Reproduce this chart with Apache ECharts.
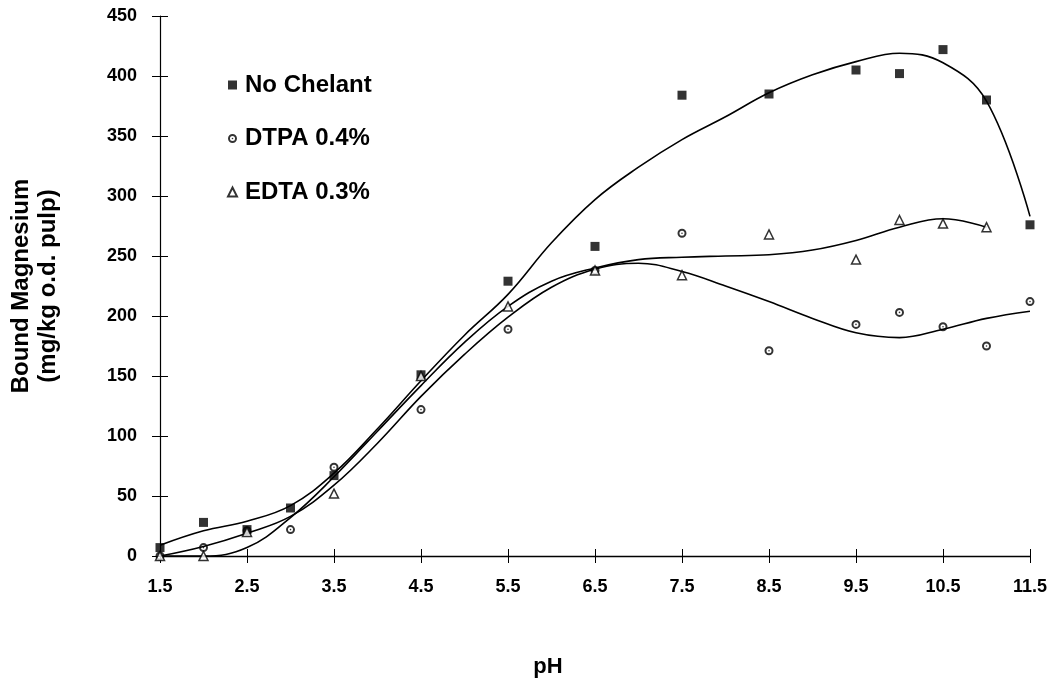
<!DOCTYPE html>
<html>
<head>
<meta charset="utf-8">
<script src="https://cdn.jsdelivr.net/npm/echarts@6/dist/echarts.min.js"></script>
<style>
  html, body { margin: 0; padding: 0; background: #fff; }
  #chart { width: 1058px; height: 680px; }
</style>
</head>
<body>
<div id="chart"></div>
<script>
// measured points
const phNoChelant = [1.5, 2, 2.5, 3, 3.5, 4.5, 5.5, 6.5, 7.5, 8.5, 9.5, 10, 10.5, 11, 11.5];
const noChelant = [7, 28, 22, 40, 67, 151, 229, 258, 384, 385, 405, 402, 422, 380, 276];

const phDtpa = [1.5, 2, 2.5, 3, 3.5, 4.5, 5.5, 6.5, 7.5, 8.5, 9.5, 10, 10.5, 11, 11.5];
const dtpa = [0, 7, 21, 22, 74, 122, 189, 238, 269, 171, 193, 203, 191, 175, 212];

const phEdta = [1.5, 2, 2.5, 3.5, 4.5, 5.5, 6.5, 7.5, 8.5, 9.5, 10, 10.5, 11];
const edta = [0, 0, 20, 52, 150, 208, 238, 234, 268, 247, 280, 277, 274];

// trend curves
const phFit = [1.5, 2, 2.5, 3, 3.5, 4, 4.5, 5, 5.5, 6, 6.5, 7, 7.5, 8, 8.5, 9, 9.5, 10, 10.5, 11, 11.5];
const noChelantFit = [9, 21, 29, 42, 69, 106, 146, 184, 218, 261, 297, 324, 347, 366, 386, 401, 412, 419, 411, 379, 283];
const dtpaFit = [0, 8, 19, 33, 59, 94, 133, 168, 199, 224, 239, 244, 237, 225, 212, 198, 186, 182, 189, 198, 204];
const edtaFit = [0, 0, 7, 32, 66, 104, 142, 178, 208, 229, 240, 247, 249, 250, 251, 255, 263, 274, 281, 274];

const xTicks = [1.5, 2.5, 3.5, 4.5, 5.5, 6.5, 7.5, 8.5, 9.5, 10.5, 11.5];

const pairs = (xs, ys) => ys.map((y, i) => [xs[i], y]);

const font = '"Liberation Sans", Arial, sans-serif';
const dotCircle = 'path://M5,0A5,5 0 1,1 5,10A5,5 0 1,1 5,0ZM5,2.2A2.8,2.8 0 1,0 5,7.8A2.8,2.8 0 1,0 5,2.2ZM5,4.1A0.9,0.9 0 1,1 5,5.9A0.9,0.9 0 1,1 5,4.1Z';

const chart = echarts.init(document.getElementById('chart'));

const curve = (data) => ({
    type: 'line',
    data: data,
    smooth: 0.4,
    showSymbol: false,
    silent: true,
    lineStyle: { color: '#000', width: 1.6 },
    z: 1
});

const option = {
    animation: false,
    backgroundColor: '#fff',
    grid: { left: 160, right: 28, top: 16, bottom: 124, containLabel: false, outerBoundsMode: 'none' },
    legend: {
        data: ['No Chelant', 'DTPA 0.4%', 'EDTA 0.3%'],
        orient: 'vertical',
        left: 222,
        top: 68,
        itemWidth: 9,
        itemHeight: 9,
        itemGap: 29.5,
        textStyle: { fontFamily: font, fontWeight: 'bold', fontSize: 24, color: '#000', padding: [0, 0, 0, 3] }
    },
    xAxis: [{
        type: 'value',
        min: 1.5,
        max: 11.5,
        name: 'pH',
        nameLocation: 'middle',
        nameGap: 100,
        nameTextStyle: { fontFamily: font, fontWeight: 'bold', fontSize: 22, color: '#000', padding: [0, 94, 0, 0] },
        splitLine: { show: false },
        axisLine: { onZero: false, lineStyle: { color: '#000', width: 1.3 } },
        axisTick: { length: 7, customValues: xTicks, lineStyle: { color: '#000' } },
        axisLabel: {
            customValues: xTicks, margin: 22,
            fontFamily: font, fontWeight: 'bold', fontSize: 18, color: '#000'
        }
    }, {
        type: 'value',
        min: 1.5,
        max: 11.5,
        position: 'bottom',
        splitLine: { show: false },
        axisLine: { show: false, onZero: false },
        axisTick: { inside: true, length: 7, customValues: xTicks, lineStyle: { color: '#000' } },
        axisLabel: { show: false }
    }],
    yAxis: [{
        type: 'value',
        min: 0,
        max: 450,
        interval: 50,
        name: 'Bound Magnesium\n(mg/kg o.d. pulp)',
        nameLocation: 'middle',
        nameGap: 98,
        nameTextStyle: { fontFamily: font, fontWeight: 'bold', fontSize: 24, lineHeight: 27, color: '#000' },
        splitLine: { show: false },
        axisLine: { show: true, lineStyle: { color: '#000', width: 1.2 } },
        axisTick: { show: true, length: 8, lineStyle: { color: '#000' } },
        axisLabel: { margin: 23, fontFamily: font, fontWeight: 'bold', fontSize: 18, color: '#000' }
    }, {
        type: 'value',
        min: 0,
        max: 450,
        interval: 50,
        position: 'left',
        splitLine: { show: false },
        axisLine: { show: false },
        axisTick: { show: true, inside: true, length: 8, lineStyle: { color: '#000' } },
        axisLabel: { show: false }
    }],
    series: [
        curve(pairs(phFit, noChelantFit)),
        curve(pairs(phFit, dtpaFit)),
        curve(pairs(phFit, edtaFit)),
        {
            name: 'No Chelant',
            type: 'scatter',
            data: pairs(phNoChelant, noChelant),
            symbol: 'rect',
            symbolSize: 9,
            itemStyle: { color: '#000' },
            z: 3
        },
        {
            name: 'DTPA 0.4%',
            type: 'scatter',
            data: pairs(phDtpa, dtpa),
            symbol: dotCircle,
            symbolSize: 9,
            itemStyle: { color: '#000' },
            z: 3
        },
        {
            name: 'EDTA 0.3%',
            type: 'scatter',
            data: pairs(phEdta, edta),
            symbol: 'triangle',
            symbolSize: 9,
            itemStyle: { color: '#fff', borderColor: '#000', borderWidth: 1.5 },
            z: 3
        }
    ]
};

chart.setOption(option);
</script>
</body>
</html>
